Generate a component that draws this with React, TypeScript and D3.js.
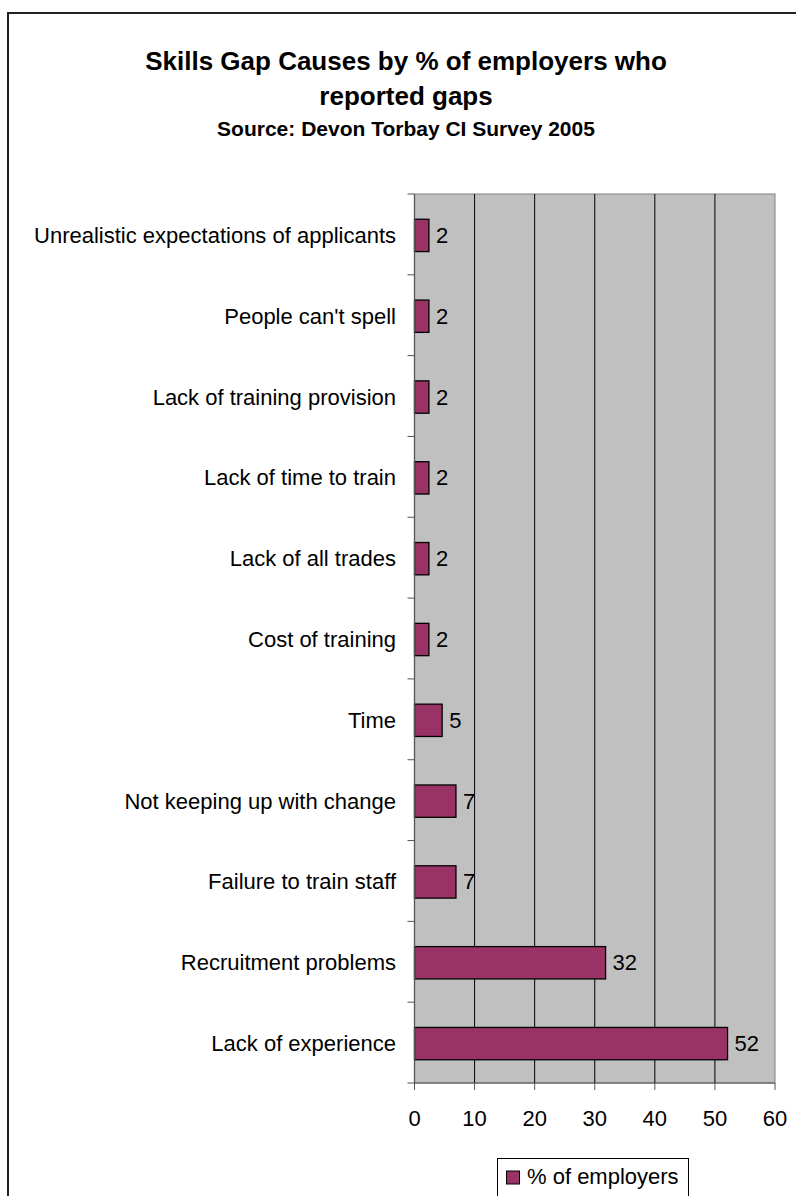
import React from "react";
import * as d3 from "d3";

const categories = [
  "Unrealistic expectations of applicants",
  "People can't spell",
  "Lack of training provision",
  "Lack of time to train",
  "Lack of all trades",
  "Cost of training",
  "Time",
  "Not keeping up with change",
  "Failure to train staff",
  "Recruitment problems",
  "Lack of experience",
];
const values = [2.4, 2.4, 2.4, 2.4, 2.4, 2.4, 4.6, 6.9, 6.9, 31.8, 52.1];
const xTicks = [0, 10, 20, 30, 40, 50, 60];
const seriesName = "% of employers";
const titleLines = ["Skills Gap Causes by % of employers who", "reported gaps"];
const subtitle = "Source: Devon Torbay CI Survey 2005";

const FONT = "'Liberation Sans', Arial, sans-serif";
const BAR = "#993366";
const fmt = d3.format(".0f");

export default function App() {
  const left = 414.5, right = 775, top = 194, bottom = 1083;
  const x = d3.scaleLinear().domain([0, 60]).range([left, right]);
  const y = d3.scaleBand<string>().domain(categories).range([top, bottom]).paddingInner(0.6).paddingOuter(0.3);
  const bounds = d3.range(categories.length + 1).map((i) => top + i * ((bottom - top) / categories.length));
  const cx = 406;
  return (
    <div style={{ position: "absolute", left: 0, top: 0 }}>
      <svg width={796} height={1196} style={{ display: "block", fontFamily: FONT }}>
        <rect x={0} y={0} width={796} height={1196} fill="#fff" />
        <rect x={8} y={13} width={900} height={1300} fill="#fff" stroke="#222" strokeWidth={2} />
        <text x={cx} y={70} textAnchor="middle" fontSize={26} fontWeight="bold">{titleLines[0]}</text>
        <text x={cx} y={105} textAnchor="middle" fontSize={26} fontWeight="bold">{titleLines[1]}</text>
        <text x={cx} y={136} textAnchor="middle" fontSize={21} fontWeight="bold">{subtitle}</text>
        <rect x={left} y={top} width={right - left} height={bottom - top} fill="#c0c0c0" stroke="#808080" strokeWidth={1} />
        {xTicks.slice(1, -1).map((t) => (
          <line key={t} x1={x(t)} x2={x(t)} y1={top} y2={bottom} stroke="#000" strokeWidth={1} />
        ))}
        {categories.map((c, i) => {
          const yc = (y(c) as number) + 1 + y.bandwidth() / 2;
          return (
            <g key={c}>
              <rect x={x(0)} y={(y(c) as number) + 1} width={x(values[i]) - x(0)} height={y.bandwidth()} fill={BAR} stroke="#000" strokeWidth={1.3} />
              <text x={x(values[i]) + 7} y={yc} dominantBaseline="central" fontSize={22}>{fmt(values[i])}</text>
              <text x={396} y={yc} dominantBaseline="central" textAnchor="end" fontSize={22}>{c}</text>
            </g>
          );
        })}
        <line x1={left} x2={left} y1={top} y2={bottom} stroke="#555" strokeWidth={1.3} />
        {bounds.map((b, i) => (
          <line key={i} x1={left - 7} x2={left} y1={b} y2={b} stroke="#555" strokeWidth={1} />
        ))}
        <line x1={left} x2={right} y1={bottom} y2={bottom} stroke="#555" strokeWidth={1} />
        {xTicks.map((t) => (
          <g key={t}>
            <line x1={x(t)} x2={x(t)} y1={bottom} y2={bottom + 7} stroke="#555" strokeWidth={1} />
            <text x={x(t)} y={1126} textAnchor="middle" fontSize={22}>{t}</text>
          </g>
        ))}
        <rect x={497.5} y={1158.5} width={191} height={80} fill="#fff" stroke="#000" strokeWidth={1} />
        <rect x={506.5} y={1171} width={13} height={13} fill={BAR} stroke="#000" strokeWidth={1} />
        <text x={527} y={1184} fontSize={22}>{seriesName}</text>
      </svg>
    </div>
  );
}
